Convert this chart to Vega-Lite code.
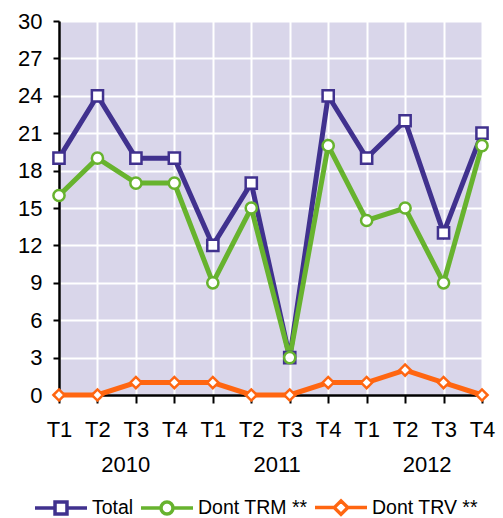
{
  "$schema": "https://vega.github.io/schema/vega-lite/v6.json",
  "width": 423,
  "height": 374,
  "autosize": "none",
  "padding": {"left": 59, "top": 21, "right": 21, "bottom": 123},
  "background": "white",
  "config": {
    "font": "Liberation Sans",
    "view": {"fill": "#d9d6ea", "stroke": null},
    "axis": {
      "labelFont": "Liberation Sans",
      "labelFontSize": 22,
      "labelColor": "black",
      "labelFlush": false,
      "labelOverlap": false,
      "gridColor": "white",
      "gridWidth": 2,
      "gridOpacity": 1,
      "domainColor": "black",
      "domainWidth": 2.5,
      "tickColor": "black",
      "tickWidth": 2,
      "title": null
    }
  },
  "data": {
    "values": [
      {"idx": 0, "quarter": "T1", "year": "2010", "series": "Total", "value": 19},
      {"idx": 1, "quarter": "T2", "year": "2010", "series": "Total", "value": 24},
      {"idx": 2, "quarter": "T3", "year": "2010", "series": "Total", "value": 19},
      {"idx": 3, "quarter": "T4", "year": "2010", "series": "Total", "value": 19},
      {"idx": 4, "quarter": "T1", "year": "2011", "series": "Total", "value": 12},
      {"idx": 5, "quarter": "T2", "year": "2011", "series": "Total", "value": 17},
      {"idx": 6, "quarter": "T3", "year": "2011", "series": "Total", "value": 3},
      {"idx": 7, "quarter": "T4", "year": "2011", "series": "Total", "value": 24},
      {"idx": 8, "quarter": "T1", "year": "2012", "series": "Total", "value": 19},
      {"idx": 9, "quarter": "T2", "year": "2012", "series": "Total", "value": 22},
      {"idx": 10, "quarter": "T3", "year": "2012", "series": "Total", "value": 13},
      {"idx": 11, "quarter": "T4", "year": "2012", "series": "Total", "value": 21},
      {"idx": 0, "quarter": "T1", "year": "2010", "series": "Dont TRM **", "value": 16},
      {"idx": 1, "quarter": "T2", "year": "2010", "series": "Dont TRM **", "value": 19},
      {"idx": 2, "quarter": "T3", "year": "2010", "series": "Dont TRM **", "value": 17},
      {"idx": 3, "quarter": "T4", "year": "2010", "series": "Dont TRM **", "value": 17},
      {"idx": 4, "quarter": "T1", "year": "2011", "series": "Dont TRM **", "value": 9},
      {"idx": 5, "quarter": "T2", "year": "2011", "series": "Dont TRM **", "value": 15},
      {"idx": 6, "quarter": "T3", "year": "2011", "series": "Dont TRM **", "value": 3},
      {"idx": 7, "quarter": "T4", "year": "2011", "series": "Dont TRM **", "value": 20},
      {"idx": 8, "quarter": "T1", "year": "2012", "series": "Dont TRM **", "value": 14},
      {"idx": 9, "quarter": "T2", "year": "2012", "series": "Dont TRM **", "value": 15},
      {"idx": 10, "quarter": "T3", "year": "2012", "series": "Dont TRM **", "value": 9},
      {"idx": 11, "quarter": "T4", "year": "2012", "series": "Dont TRM **", "value": 20},
      {"idx": 0, "quarter": "T1", "year": "2010", "series": "Dont TRV **", "value": 0},
      {"idx": 1, "quarter": "T2", "year": "2010", "series": "Dont TRV **", "value": 0},
      {"idx": 2, "quarter": "T3", "year": "2010", "series": "Dont TRV **", "value": 1},
      {"idx": 3, "quarter": "T4", "year": "2010", "series": "Dont TRV **", "value": 1},
      {"idx": 4, "quarter": "T1", "year": "2011", "series": "Dont TRV **", "value": 1},
      {"idx": 5, "quarter": "T2", "year": "2011", "series": "Dont TRV **", "value": 0},
      {"idx": 6, "quarter": "T3", "year": "2011", "series": "Dont TRV **", "value": 0},
      {"idx": 7, "quarter": "T4", "year": "2011", "series": "Dont TRV **", "value": 1},
      {"idx": 8, "quarter": "T1", "year": "2012", "series": "Dont TRV **", "value": 1},
      {"idx": 9, "quarter": "T2", "year": "2012", "series": "Dont TRV **", "value": 2},
      {"idx": 10, "quarter": "T3", "year": "2012", "series": "Dont TRV **", "value": 1},
      {"idx": 11, "quarter": "T4", "year": "2012", "series": "Dont TRV **", "value": 0}
    ]
  },
  "encoding": {
    "y": {
      "field": "value",
      "type": "quantitative",
      "scale": {"domain": [0, 30], "nice": false, "zero": true},
      "axis": {
        "values": [0, 3, 6, 9, 12, 15, 18, 21, 24, 27, 30],
        "tickSize": 6,
        "labelPadding": 11,
        "encode": {"ticks": {"update": {"x": {"value": 7}}}}
      }
    },
    "color": {
      "field": "series",
      "type": "nominal",
      "sort": null,
      "scale": {
        "domain": ["Total", "Dont TRM **", "Dont TRV **"],
        "range": ["#40318e", "#67b32e", "#ff6611"]
      },
      "legend": null
    }
  },
  "layer": [
    {
      "mark": {"type": "line", "strokeWidth": 5},
      "encoding": {
        "x": {
          "field": "idx",
          "type": "quantitative",
          "scale": {"domain": [0, 11], "nice": false, "zero": false},
          "axis": {
            "orient": "bottom",
            "values": [0, 1, 2, 3, 4, 5, 6, 7, 8, 9, 10, 11],
            "labelExpr": "['T1','T2','T3','T4'][datum.value % 4]",
            "tickSize": 8,
            "labelPadding": 16,
            "encode": {"ticks": {"update": {"y": {"value": -4}}}}
          }
        },
        "shape": {
          "field": "series",
          "type": "nominal",
          "sort": null,
          "scale": {
            "domain": ["Total", "Dont TRM **", "Dont TRV **"],
            "range": [
              "M-1,0H-0.23M0.23,0H1M-0.23,-0.23H0.23V0.23H-0.23Z",
              "M-1,0H-0.23M0.23,0H1M-0.23,0A0.23,0.23,0,1,0,0.23,0A0.23,0.23,0,1,0,-0.23,0Z",
              "M-1,0H-0.26M0.26,0H1M-0.26,0L0,-0.26L0.26,0L0,0.26Z"
            ]
          },
          "legend": {
            "title": null,
            "orient": "none",
            "direction": "horizontal",
            "legendX": -26,
            "legendY": 458.5,
            "padding": 0,
            "columnPadding": 0,
            "labelOffset": 3,
            "labelFont": "Liberation Sans",
            "labelFontSize": 19.5,
            "labelColor": "black",
            "labelLimit": 300,
            "symbolSize": 2704,
            "symbolStrokeWidth": 3.5,
            "symbolFillColor": "white",
            "symbolOpacity": 1,
            "encode": {
              "symbols": {
                "update": {
                  "stroke": {"scale": "color", "field": "value"},
                  "fill": {"value": "white"},
                  "strokeWidth": {"value": 3.5},
                  "opacity": {"value": 1}
                }
              }
            }
          }
        }
      }
    },
    {
      "transform": [{"filter": "datum.series === 'Total'"}],
      "mark": {"type": "point", "shape": "square", "filled": false, "fill": "white", "strokeWidth": 2.5, "size": 125, "opacity": 1},
      "encoding": {
        "x": {
          "field": "idx",
          "type": "quantitative",
          "scale": {"domain": [0, 11], "nice": false, "zero": false},
          "axis": {
            "orient": "bottom",
            "values": [1.72, 5.66, 9.56],
            "labelExpr": "datum.value < 4 ? '2010' : datum.value < 8 ? '2011' : '2012'",
            "domain": false,
            "ticks": false,
            "tickSize": 0,
            "grid": false,
            "labelPadding": 59
          }
        }
      }
    },
    {
      "transform": [{"filter": "datum.series === 'Dont TRM **'"}],
      "mark": {"type": "point", "shape": "circle", "filled": false, "fill": "white", "strokeWidth": 2.5, "size": 125, "opacity": 1},
      "encoding": {
        "x": {"field": "idx", "type": "quantitative", "scale": {"domain": [0, 11], "nice": false, "zero": false}, "axis": null}
      }
    },
    {
      "transform": [{"filter": "datum.series === 'Dont TRV **'"}],
      "mark": {"type": "point", "shape": "diamond", "filled": false, "fill": "white", "strokeWidth": 2.5, "size": 125, "opacity": 1},
      "encoding": {
        "x": {"field": "idx", "type": "quantitative", "scale": {"domain": [0, 11], "nice": false, "zero": false}, "axis": null}
      }
    }
  ],
  "resolve": {"axis": {"x": "independent"}, "scale": {"shape": "independent"}}
}
